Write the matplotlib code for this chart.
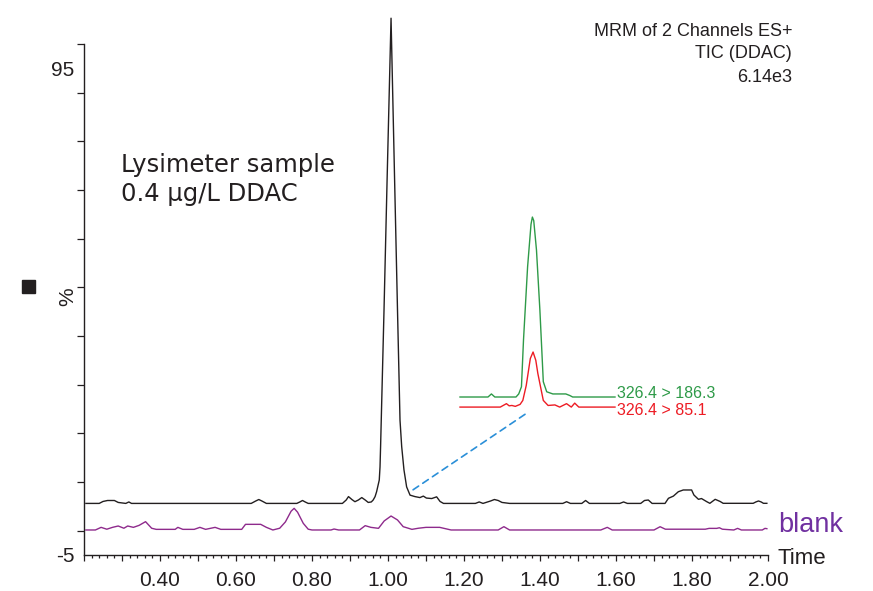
import numpy as np
import matplotlib
matplotlib.use('Agg')
import matplotlib.pyplot as plt
from matplotlib.patches import ConnectionPatch, Rectangle
from matplotlib.ticker import FixedLocator, MultipleLocator

# ── TIC de la muestra (tiempo [min], intensidad [%]) ──
tic_t = [0.205, 0.24, 0.25, 0.262, 0.28, 0.29, 0.31, 0.318, 0.325, 0.64,
         0.652, 0.66, 0.668, 0.68, 0.76, 0.768, 0.775, 0.782, 0.79, 0.88,
         0.89, 0.896, 0.905, 0.913, 0.922, 0.931, 0.94, 0.948, 0.956, 0.961,
         0.966, 0.97, 0.977, 0.979, 0.9805, 0.9895, 0.9976, 1.008, 1.0174, 1.025,
         1.0316, 1.036, 1.042, 1.049, 1.058, 1.071, 1.084, 1.093, 1.101, 1.115,
         1.128, 1.137, 1.146, 1.23, 1.24, 1.25, 1.27, 1.28, 1.29, 1.30,
         1.32, 1.46, 1.47, 1.48, 1.51, 1.52, 1.53, 1.61, 1.62, 1.63,
         1.665, 1.675, 1.685, 1.695, 1.729, 1.738, 1.751, 1.764, 1.777, 1.799,
         1.805, 1.817, 1.825, 1.839, 1.847, 1.861, 1.874, 1.882, 1.961, 1.968,
         1.975, 1.982, 1.988, 1.997]
tic_i = [5.6, 5.6, 6.0, 6.2, 6.2, 5.8, 5.6, 5.9, 5.6, 5.6,
         6.1, 6.4, 6.1, 5.6, 5.6, 5.9, 6.2, 5.9, 5.6, 5.6,
         6.3, 7.0, 6.4, 5.95, 6.3, 6.8, 6.3, 5.8, 5.9, 6.3,
         7.0, 8.0, 10.4, 13.1, 17.3, 45.3, 72.0, 105.3, 72.0, 45.3,
         22.7, 17.3, 12.5, 9.0, 7.3, 7.0, 6.8, 7.1, 6.7, 6.6,
         6.95, 6.0, 5.6, 5.6, 5.9, 5.6, 6.1, 6.4, 6.2, 5.8,
         5.6, 5.6, 5.95, 5.6, 5.6, 6.2, 5.6, 5.6, 5.9, 5.6,
         5.6, 6.2, 6.3, 5.6, 5.6, 6.65, 7.1, 8.0, 8.36, 8.36,
         7.33, 6.44, 6.6, 5.95, 5.62, 6.44, 6.0, 5.62, 5.62, 5.9,
         6.1, 5.9, 5.62, 5.62]

# ── blanco ──
blank_t = [0.205, 0.23, 0.245, 0.26, 0.275, 0.29, 0.305, 0.315, 0.33, 0.345,
           0.362, 0.378, 0.39, 0.44, 0.447, 0.46, 0.49, 0.505, 0.52, 0.545,
           0.56, 0.615, 0.625, 0.665, 0.68, 0.697, 0.715, 0.73, 0.745, 0.753,
           0.762, 0.777, 0.79, 0.80, 0.85, 0.858, 0.87, 0.925, 0.94, 0.955,
           0.975, 0.99, 1.008, 1.025, 1.04, 1.063, 1.08, 1.10, 1.12, 1.136,
           1.166, 1.29, 1.305, 1.32, 1.56, 1.577, 1.59, 1.70, 1.716, 1.73,
           1.835, 1.845, 1.865, 1.872, 1.88, 1.91, 1.92, 1.93, 1.985, 1.992, 1.997]
blank_i = [0.14, 0.14, 0.68, 0.3, 0.68, 0.96, 0.5, 0.96, 0.68, 1.09,
           1.85, 0.5, 0.27, 0.27, 0.68, 0.27, 0.27, 0.68, 0.27, 0.68,
           0.27, 0.27, 1.3, 1.3, 0.68, 0.14, 0.5, 1.8, 4.0, 4.59,
           3.8, 1.51, 0.3, 0.14, 0.14, 0.34, 0.14, 0.14, 1.03, 0.68,
           0.48, 2.0, 3.01, 2.2, 0.82, 0.27, 0.5, 0.68, 0.68, 0.68,
           0.14, 0.14, 0.82, 0.14, 0.14, 0.68, 0.14, 0.14, 0.81, 0.3,
           0.3, 0.47, 0.47, 0.6, 0.3, 0.14, 0.47, 0.14, 0.14, 0.47, 0.41]

# ── transiciones MRM (recuadro) ──
q1_t = [0.900, 0.941, 0.946, 0.951, 0.982, 0.986, 0.990, 0.993, 0.999, 1.004,
        1.006, 1.008, 1.012, 1.017, 1.022, 1.027, 1.036, 1.046, 1.055, 1.061,
        1.065, 1.127]
q1_i = [0, 0, 1.7, 0, 0, 1.7, 5.7, 31.7, 72.4, 96,
        100, 98, 81.7, 48.3, 8.5, 2.9, 1.7, 1.7, 1.7, 0.8,
        0, 0]
q2_t = [0.900, 0.959, 0.968, 0.972, 0.976, 0.981, 0.988, 0.992, 0.997, 1.003,
        1.007, 1.011, 1.014, 1.019, 1.022, 1.029, 1.039, 1.046, 1.056, 1.063,
        1.068, 1.074, 1.127]
q2_i = [0, 0, 1.9, 0.7, 0.9, 0.4, 1.5, 3.7, 12, 27,
        30.6, 26, 18.7, 9.3, 3.7, 0.9, 1.2, 0, 1.9, 0,
        2.2, 0, 0]
Q2_OFFSET = -5.6

x_labels = [0.40, 0.60, 0.80, 1.00, 1.20, 1.40, 1.60, 1.80, 2.00]

SANS = ['Liberation Sans', 'DejaVu Sans']
C_TIC = "#231f20"
C_BLANK = "#8e2a8c"

fig = plt.figure(figsize=(8.73, 5.91), dpi=100)
ax = fig.add_axes([84/873, 36/591, 684/873, 511/591])

ax.plot(tic_t, tic_i, color=C_TIC, lw=1.0, clip_on=False)
ax.plot(blank_t, blank_i, color=C_BLANK, lw=1.0, clip_on=False)

ax.set_xlim(0.2, 2.0)
ax.set_ylim(-5, 100)
for s in ["top", "right"]:
    ax.spines[s].set_visible(False)
for s in ["left", "bottom"]:
    ax.spines[s].set_linewidth(1.0)
    ax.spines[s].set_color(C_TIC)

ax.xaxis.set_major_locator(MultipleLocator(0.1))
ax.xaxis.set_minor_locator(MultipleLocator(0.02))
ax.set_xticklabels([])
ax.tick_params(axis="x", which="major", length=4.2, width=0.9, color=C_TIC)
ax.tick_params(axis="x", which="minor", length=2.0, width=0.9, color=C_TIC)
for v in x_labels:
    ax.text(v, -0.05, f"{v:.2f}", transform=ax.get_xaxis_transform(),
            ha="center", va="center", fontsize=15, family=SANS, color=C_TIC)

ax.yaxis.set_major_locator(FixedLocator([-5, 95]))
ax.yaxis.set_minor_locator(MultipleLocator(10))
ax.set_yticklabels(["-5", "95"], fontsize=15, family=SANS)
ax.tick_params(axis="y", which="major", length=0, pad=7, colors=C_TIC)
ax.tick_params(axis="y", which="minor", length=5, width=0.9, color=C_TIC)

fig.text(68/873, 1 - 297/591, "%", rotation=90, ha="center", va="center",
         fontsize=15, family=SANS, color=C_TIC)
fig.patches.append(Rectangle((22/873, 1 - 293/591), 13/873, 13/591,
                             transform=fig.transFigure, color=C_TIC))
fig.text(778/873, 1 - 558/591, "Time", ha="left", va="center",
         fontsize=16, family=SANS, color=C_TIC)
fig.text(778/873, 1 - 525/591, "blank", ha="left", va="center",
         fontsize=19.5, family=SANS, color="#7030a0")

for txt, y in [("MRM of 2 Channels ES+", 31), ("TIC (DDAC)", 54), ("6.14e3", 77)]:
    fig.text(792/873, 1 - y/591, txt, ha="right", va="center",
             fontsize=13, family=SANS, color=C_TIC)

fig.text(121/873, 1 - 165/591, "Lysimeter sample", ha="left", va="center",
         fontsize=17.5, family="DejaVu Sans", color=C_TIC)
fig.text(121/873, 1 - 194/591, "0.4 µg/L DDAC", ha="left", va="center",
         fontsize=17.5, family="DejaVu Sans", color=C_TIC)

# recuadro con las dos transiciones
ax_in = fig.add_axes([460/873, 176/591, 155/873, 210/591])
ax_in.set_xlim(0.9, 1.127)
ax_in.set_ylim(-10, 106.7)
ax_in.axis("off")
ax_in.patch.set_alpha(0)
ax_in.plot(q1_t, q1_i, color="#2e9a48", lw=1.0, clip_on=False)
ax_in.plot(q2_t, np.array(q2_i) + Q2_OFFSET, color="#ed1c24", lw=1.0, clip_on=False)
ax_in.text(1.130, 2.2, "326.4 > 186.3", color="#2e9a48", fontsize=11.5,
           family=SANS, ha="left", va="center", clip_on=False)
ax_in.text(1.130, -7.6, "326.4 > 85.1", color="#ed1c24", fontsize=11.5,
           family=SANS, ha="left", va="center", clip_on=False)

con = ConnectionPatch(xyA=(1.066, 8.4), coordsA=ax.transData,
                      xyB=(0.998, -8.9), coordsB=ax_in.transData,
                      color="#2a8fd8", lw=1.2, linestyle=(0, (4, 3)))
fig.add_artist(con)

fig.savefig("out.png", dpi=100)
